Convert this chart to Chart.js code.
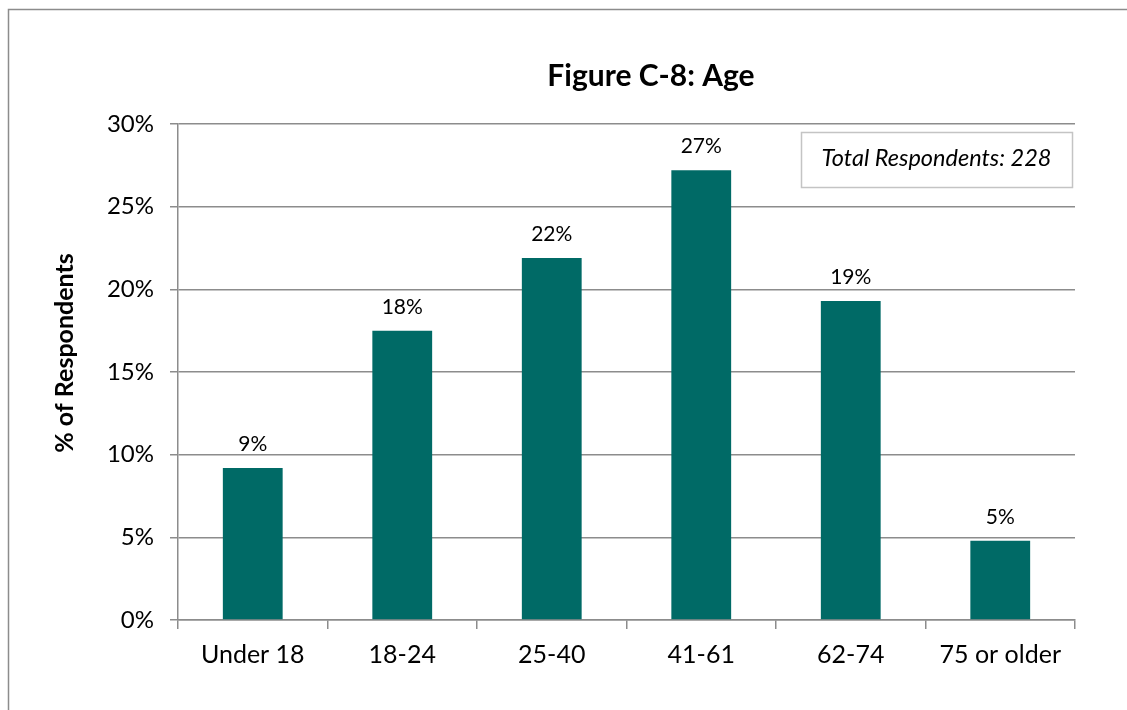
<!DOCTYPE html>
<html>
<head>
<meta charset="utf-8">
<title>Figure C-8: Age</title>
<script src="https://cdn.jsdelivr.net/npm/chart.js@4/dist/chart.umd.min.js"></script>
<style>
  html, body { margin: 0; padding: 0; background: #ffffff; overflow: hidden; }
  #wrap { position: relative; width: 1127px; height: 710px; }
</style>
</head>
<body>
<div id="wrap"><canvas id="chart"></canvas></div>
<script>
// Age groups of survey respondents
const categories = ['Under 18', '18-24', '25-40', '41-61', '62-74', '75 or older'];
// Share of respondents in each age group (%)
const percentValues = [9.2, 17.5, 21.9, 27.2, 19.3, 4.8];
// Value axis: 0% to 30% in steps of 5
const yMin = 0;
const yMax = 30;
const yStep = 5;

const chartTitle = 'Figure C-8: Age';
const yAxisTitle = '% of Respondents';
const noteText = 'Total Respondents: 228';

const FONT = 'Lato, "Open Sans", sans-serif';
const BAR_COLOR = '#006a66';
const LINE_GRAY = '#8c8c8c';

// Frame, title, axis title, note box and value labels
const decorations = {
  id: 'decorations',
  beforeDraw(chart) {
    const ctx = chart.ctx;
    ctx.save();
    ctx.strokeStyle = LINE_GRAY;
    ctx.lineWidth = 1.5;
    ctx.beginPath();
    ctx.moveTo(8.5, 712);
    ctx.lineTo(8.5, 9.5);
    ctx.lineTo(1130, 9.5);
    ctx.stroke();
    ctx.restore();
  },
  afterDatasetsDraw(chart) {
    const ctx = chart.ctx;
    ctx.save();

    // chart title
    ctx.fillStyle = '#000000';
    ctx.font = 'bold 30px ' + FONT;
    ctx.textAlign = 'center';
    ctx.textBaseline = 'alphabetic';
    ctx.fillText(chartTitle, 651, 86);

    // rotated value-axis title
    ctx.save();
    ctx.translate(73, 353);
    ctx.rotate(-Math.PI / 2);
    ctx.font = 'bold 25px ' + FONT;
    ctx.textAlign = 'center';
    ctx.textBaseline = 'alphabetic';
    ctx.fillText(yAxisTitle, 0, 0);
    ctx.restore();

    // note box
    const bx = 801, by = 132, bw = 271, bh = 55;
    ctx.fillStyle = '#ffffff';
    ctx.fillRect(bx, by, bw, bh);
    ctx.strokeStyle = '#c4c4c4';
    ctx.lineWidth = 1.5;
    ctx.strokeRect(bx + 0.5, by + 0.5, bw, bh);
    ctx.fillStyle = '#000000';
    ctx.font = 'italic 23.5px ' + FONT;
    ctx.textAlign = 'center';
    ctx.fillText(noteText, bx + bw / 2, by + 34);

    // value labels above the bars
    const meta = chart.getDatasetMeta(0);
    ctx.font = '21px ' + FONT;
    ctx.textAlign = 'center';
    ctx.textBaseline = 'alphabetic';
    meta.data.forEach((bar, i) => {
      const label = Math.round(percentValues[i]) + '%';
      ctx.fillText(label, bar.x, bar.y - 17);
    });
    ctx.restore();
  }
};

new Chart(document.getElementById('chart'), {
  type: 'bar',
  data: {
    labels: categories,
    datasets: [{
      data: percentValues,
      backgroundColor: BAR_COLOR,
      borderWidth: 0,
      barPercentage: 0.4,
      categoryPercentage: 1.0
    }]
  },
  options: {
    responsive: true,
    maintainAspectRatio: false,
    animation: false,
    events: [],
    layout: { padding: { top: 124, right: 52, bottom: 0, left: 0 } },
    plugins: {
      legend: { display: false },
      title: { display: false },
      tooltip: { enabled: false }
    },
    scales: {
      x: {
        offset: true,
        grid: {
          offset: true,
          drawOnChartArea: false,
          drawTicks: true,
          tickLength: 9,
          color: LINE_GRAY,
          lineWidth: 1.5
        },
        border: { display: true, color: LINE_GRAY, width: 1.5 },
        ticks: {
          color: '#000000',
          font: { family: FONT, size: 25 },
          padding: 11,
          maxRotation: 0,
          autoSkip: false
        },
        afterFit(scale) { scale.height = 90; }
      },
      y: {
        min: yMin,
        max: yMax,
        grid: {
          drawOnChartArea: true,
          drawTicks: true,
          tickLength: 8,
          color: LINE_GRAY,
          lineWidth: 1.5
        },
        border: { display: true, color: LINE_GRAY, width: 1.5 },
        ticks: {
          stepSize: yStep,
          color: '#000000',
          font: { family: FONT, size: 24 },
          padding: 16,
          callback: (v) => v + '%'
        },
        afterFit(scale) { scale.width = 178; }
      }
    }
  },
  plugins: [decorations]
});
</script>
</body>
</html>
